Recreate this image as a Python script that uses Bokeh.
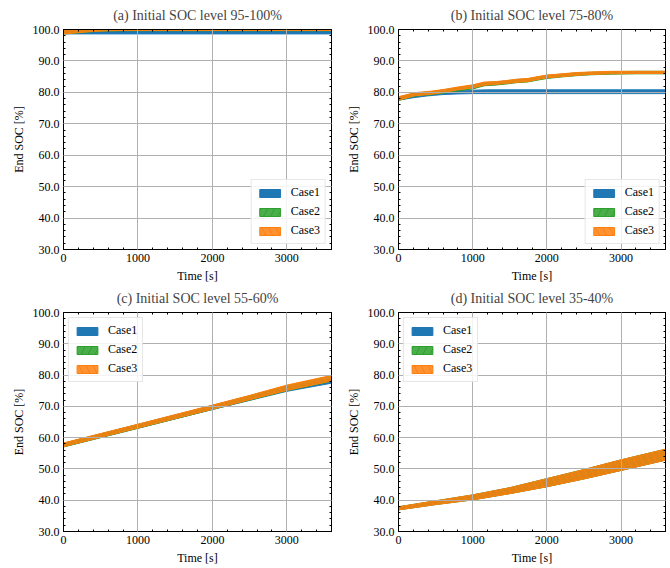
from bokeh.plotting import figure
from bokeh.layouts import column, row
from bokeh.models import (LinearAxis, Range1d, FixedTicker, NumeralTickFormatter, Legend,
                          LegendItem, CustomLabelingPolicy)
from bokeh.embed import file_html
from bokeh.resources import INLINE

# ---------------- data ----------------
titles = ["(a) Initial SOC level 95-100%", "(b) Initial SOC level 75-80%",
          "(c) Initial SOC level 55-60%", "(d) Initial SOC level 35-40%"]
case_names = ["Case1", "Case2", "Case3"]
x_ticks = [0, 1000, 2000, 3000]
y_ticks = [30, 40, 50, 60, 70, 80, 90, 100]

# (a)
a_t = [0, 200, 400, 600, 800, 1000, 2000, 3000, 3600]
a_c1_lo = [98.6, 98.6, 98.6, 98.6, 98.6, 98.6, 98.6, 98.6, 98.6]
a_c1_hi = [99.5, 99.5, 99.5, 99.5, 99.5, 99.5, 99.5, 99.5, 99.5]
a_c2_lo = [98.6, 98.9, 99.3, 99.5, 99.6, 99.6, 99.6, 99.6, 99.6]
a_c2_hi = [99.6, 99.9, 100.2, 100.4, 100.5, 100.5, 100.5, 100.5, 100.5]
a_c3_lo = [98.6, 99.0, 99.4, 99.6, 99.7, 99.7, 99.7, 99.7, 99.7]
a_c3_hi = [99.6, 100.0, 100.3, 100.5, 100.6, 100.6, 100.6, 100.6, 100.6]

# (b)
b_t1 = [0, 200, 400, 600, 800, 1000, 1200, 2000, 3000, 3600]
b_c1_lo = [77.5, 78.3, 78.9, 79.3, 79.5, 79.6, 79.6, 79.6, 79.6, 79.6]
b_c1_hi = [78.5, 79.2, 79.8, 80.3, 80.6, 80.7, 80.8, 80.8, 80.8, 80.8]
b_t = [0, 220, 450, 630, 800, 1000, 1160, 1300, 1430, 1600, 1740, 1900, 2000, 2200, 2400, 2600, 2880, 3200, 3600]
b_c2_lo = [77.4, 78.8, 79.3, 79.8, 80.5, 81.1, 82.1, 82.3, 82.6, 83.1, 83.3, 84.0, 84.4, 84.9, 85.3, 85.6, 85.8, 85.9, 85.9]
b_c2_hi = [78.5, 79.8, 80.2, 80.9, 81.5, 82.2, 83.1, 83.3, 83.6, 84.1, 84.3, 85.0, 85.4, 85.8, 86.2, 86.4, 86.6, 86.7, 86.7]
b_c3_lo = [77.5, 78.9, 79.4, 80.0, 80.8, 81.4, 82.3, 82.5, 82.8, 83.2, 83.4, 84.2, 84.6, 85.0, 85.4, 85.7, 85.9, 86.0, 86.0]
b_c3_hi = [78.6, 79.9, 80.4, 81.0, 81.7, 82.4, 83.3, 83.4, 83.7, 84.2, 84.4, 85.1, 85.5, 85.9, 86.3, 86.5, 86.7, 86.7, 86.7]

# (c)
c_t = [0, 1000, 2000, 2500, 3000, 3600]
c_c1_lo = [57.1, 63.0, 69.0, 71.9, 74.8, 77.4]
c_c1_hi = [58.2, 64.2, 70.2, 73.2, 76.2, 78.6]
c_c2_lo = [57.0, 63.0, 69.0, 72.0, 75.0, 78.0]
c_c2_hi = [58.2, 64.2, 70.3, 73.4, 76.6, 79.7]
c_c3_lo = [57.1, 63.1, 69.1, 72.1, 75.1, 78.1]
c_c3_hi = [58.3, 64.3, 70.4, 73.5, 76.8, 79.9]

# (d)
d_t = [0, 500, 1000, 1500, 2000, 2500, 3000, 3600]
d_c1_lo = [37.0, 38.7, 40.2, 42.2, 44.4, 46.9, 49.6, 52.9]
d_c1_hi = [37.8, 39.7, 41.6, 43.9, 46.8, 49.7, 52.8, 56.2]
d_c2_lo = [36.9, 38.6, 40.1, 42.1, 44.3, 46.8, 49.5, 52.8]
d_c2_hi = [37.9, 39.8, 41.7, 44.0, 46.9, 49.8, 52.9, 56.3]
d_c3_lo = [36.9, 38.6, 40.1, 42.1, 44.3, 46.8, 49.5, 52.8]
d_c3_hi = [37.9, 39.8, 41.7, 44.0, 46.9, 49.8, 52.9, 56.3]

# ---------------- style ----------------
FONT = "Liberation Serif"
colors = ["#1f77b4", "#2ca02c", "#ff7f0e"]
hatches = [" ", "/", "\\"]
alphas = [1.0, 0.85, 0.85]

NO_LABELS = CustomLabelingPolicy(code="""
    for (const i of indices) { indices.unset(i) }
    return indices
""")


def style_axis(ax, labels=True):
    ax.axis_line_color = "black"
    ax.axis_line_width = 1
    ax.major_tick_in = 4
    ax.major_tick_out = 0
    ax.minor_tick_in = 2
    ax.minor_tick_out = 0
    ax.major_tick_line_color = "black"
    ax.minor_tick_line_color = "black"
    ax.major_label_text_font = FONT
    ax.major_label_text_color = "black"
    ax.axis_label_text_font = FONT
    ax.axis_label_text_font_style = "normal"
    ax.axis_label_text_font_size = "12px"
    ax.axis_label_text_color = "black"
    if labels:
        ax.major_label_text_font_size = "12px"
        ax.major_label_standoff = 4
        ax.axis_label_standoff = 4
    else:
        ax.major_label_text_font_size = "1px"
        ax.major_label_standoff = 0
        ax.major_label_policy = NO_LABELS
        ax.axis_label = None


def make_panel(title, series, legend_loc, width, height, borders):
    p = figure(width=width, height=height, output_backend="svg", toolbar_location=None,
               x_range=Range1d(0, 3600), y_range=Range1d(30, 100),
               min_border_left=borders[0], min_border_right=borders[1],
               min_border_top=borders[2], min_border_bottom=borders[3])
    p.title.text = title
    p.title.text_font = FONT
    p.title.text_font_size = "14px"
    p.title.text_font_style = "normal"
    p.title.align = "center"
    p.title.offset = 0
    p.title.standoff = 6
    p.outline_line_color = "black"
    p.outline_line_width = 1

    xt = FixedTicker(ticks=x_ticks, minor_ticks=list(range(0, 3601, 200)))
    yt = FixedTicker(ticks=y_ticks, minor_ticks=list(range(30, 101, 2)))

    p.xaxis.ticker = xt
    p.yaxis.ticker = yt
    p.xaxis.axis_label = "Time [s]"
    p.yaxis.axis_label = "End SOC [%]"
    p.yaxis.formatter = NumeralTickFormatter(format="0.0")
    for ax in p.xaxis + p.yaxis:
        style_axis(ax)

    top = LinearAxis(ticker=xt)
    style_axis(top, labels=False)
    p.add_layout(top, "above")
    right = LinearAxis(ticker=yt)
    style_axis(right, labels=False)
    p.add_layout(right, "right")

    p.xgrid.ticker = xt
    p.ygrid.ticker = yt
    for g in (p.xgrid[0], p.ygrid[0]):
        g.grid_line_color = "#b0b0b0"
        g.grid_line_width = 1
        g.level = "guide"

    items = []
    for i, (t, lo, hi) in enumerate(series):
        xs = list(t) + list(t)[::-1]
        ys = list(hi) + list(lo)[::-1]
        r = p.patch(xs, ys, fill_color=colors[i], fill_alpha=alphas[i],
                    line_color=colors[i], line_width=1,
                    hatch_pattern=hatches[i], hatch_color=colors[i],
                    hatch_scale=14, hatch_weight=1)
        items.append(LegendItem(label=case_names[i], renderers=[r]))

    leg = Legend(items=items, location=legend_loc)
    leg.label_text_font = FONT
    leg.label_text_font_size = "12px"
    leg.label_text_color = "black"
    leg.glyph_width = 26
    leg.glyph_height = 10
    leg.label_height = 14
    leg.label_standoff = 8
    leg.spacing = 4
    leg.padding = 5
    leg.margin = 5
    leg.border_line_color = "#d0d0d0"
    leg.background_fill_alpha = 0.85
    p.add_layout(leg, "center")
    return p


pa = make_panel(titles[0], [(a_t, a_c1_lo, a_c1_hi), (a_t, a_c2_lo, a_c2_hi), (a_t, a_c3_lo, a_c3_hi)],
                "bottom_right", 340, 285, (63, 9, 29, 34))
pb = make_panel(titles[1], [(b_t1, b_c1_lo, b_c1_hi), (b_t, b_c2_lo, b_c2_hi), (b_t, b_c3_lo, b_c3_hi)],
                "bottom_right", 330, 285, (58, 3, 29, 34))
pc = make_panel(titles[2], [(c_t, c_c1_lo, c_c1_hi), (c_t, c_c2_lo, c_c2_hi), (c_t, c_c3_lo, c_c3_hi)],
                "top_left", 340, 283, (63, 9, 24, 37))
pd = make_panel(titles[3], [(d_t, d_c1_lo, d_c1_hi), (d_t, d_c2_lo, d_c2_hi), (d_t, d_c3_lo, d_c3_hi)],
                "top_left", 330, 283, (58, 3, 24, 37))

layout = column(row(pa, pb), row(pc, pd))
open("out.html", "w").write(file_html(layout, INLINE))
